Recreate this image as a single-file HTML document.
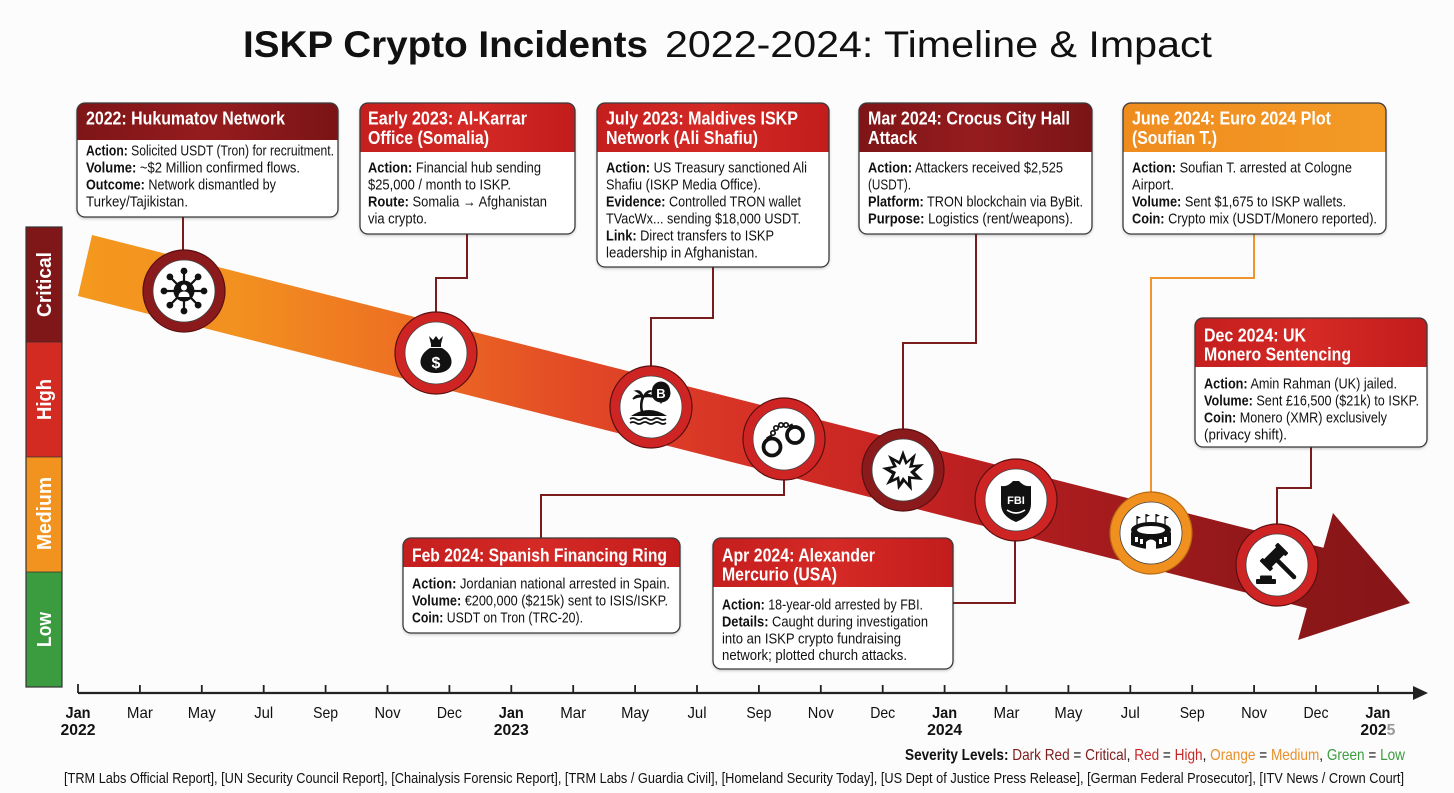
<!DOCTYPE html>
<html><head><meta charset="utf-8"><style>
html,body{margin:0;padding:0;background:#fcfcfc;}
svg{display:block;}
.b{font-family:"Liberation Sans",sans-serif;font-size:15px;fill:#111;}
.h{font-family:"Liberation Sans",sans-serif;font-size:18px;font-weight:bold;fill:#fff;}
.m{font-family:"Liberation Sans",sans-serif;font-size:16px;fill:#111;text-anchor:middle;}
.mb{font-family:"Liberation Sans",sans-serif;font-size:16px;font-weight:bold;fill:#111;text-anchor:middle;}
.sv{font-family:"Liberation Sans",sans-serif;font-size:20px;font-weight:bold;fill:#fff;text-anchor:middle;}
</style></head><body>
<svg width="1454" height="793" viewBox="0 0 1454 793" xmlns="http://www.w3.org/2000/svg">
<defs>
<linearGradient id="band" gradientUnits="userSpaceOnUse" x1="78" y1="0" x2="1410" y2="0">
<stop offset="0" stop-color="#f4981e"/><stop offset="0.12" stop-color="#f29020"/>
<stop offset="0.25" stop-color="#ed6e22"/><stop offset="0.38" stop-color="#e24826"/>
<stop offset="0.5" stop-color="#d63226"/><stop offset="0.62" stop-color="#c62222"/>
<stop offset="0.75" stop-color="#a81c1e"/><stop offset="0.9" stop-color="#8e1719"/>
<stop offset="1" stop-color="#861618"/></linearGradient>
<linearGradient id="dr" x1="0" y1="0" x2="1" y2="0"><stop offset="0" stop-color="#7e1517"/><stop offset="0.5" stop-color="#951c1e"/><stop offset="1" stop-color="#7a1416"/></linearGradient>
<linearGradient id="rd" x1="0" y1="0" x2="1" y2="0"><stop offset="0" stop-color="#c41e1e"/><stop offset="0.5" stop-color="#d52a26"/><stop offset="1" stop-color="#c21c1c"/></linearGradient>
<linearGradient id="or" x1="0" y1="0" x2="1" y2="0"><stop offset="0" stop-color="#ef8c1e"/><stop offset="1" stop-color="#f39a26"/></linearGradient>
<filter id="sh" x="-5%" y="-5%" width="110%" height="115%"><feDropShadow dx="0" dy="1.5" stdDeviation="1.5" flood-color="#000" flood-opacity="0.25"/></filter>
</defs>

<!-- Title -->
<text x="243" y="57" font-family="Liberation Sans, sans-serif" font-size="37" font-weight="bold" fill="#111" textLength="405" lengthAdjust="spacingAndGlyphs">ISKP Crypto Incidents</text>
<text x="665" y="57" font-family="Liberation Sans, sans-serif" font-size="37" fill="#111" textLength="547" lengthAdjust="spacingAndGlyphs">2022-2024: Timeline &amp; Impact</text>

<!-- Severity bar -->
<rect x="26" y="227" width="36" height="115" fill="#7f1618"/>
<rect x="26" y="342" width="36" height="115" fill="#d32a22"/>
<rect x="26" y="457" width="36" height="115" fill="#f2931f"/>
<rect x="26" y="572" width="36" height="115" fill="#3a9c3e"/>
<rect x="26" y="227" width="36" height="460" fill="none" stroke="#333" stroke-width="1.2"/>
<line x1="26" y1="342" x2="62" y2="342" stroke="#333" stroke-width="0.8"/>
<line x1="26" y1="457" x2="62" y2="457" stroke="#333" stroke-width="0.8"/>
<line x1="26" y1="572" x2="62" y2="572" stroke="#333" stroke-width="0.8"/>
<text class="sv" transform="translate(51,284.5) rotate(-90)" textLength="65" lengthAdjust="spacingAndGlyphs">Critical</text>
<text class="sv" transform="translate(51,399.5) rotate(-90)" textLength="41" lengthAdjust="spacingAndGlyphs">High</text>
<text class="sv" transform="translate(51,513.5) rotate(-90)" textLength="73" lengthAdjust="spacingAndGlyphs">Medium</text>
<text class="sv" transform="translate(51,629.5) rotate(-90)" textLength="35" lengthAdjust="spacingAndGlyphs">Low</text>

<!-- Band arrow -->
<polygon points="92,235 1323.4,547.8 1333,513 1410,603 1298,640 1306.8,608.1 78,296" fill="url(#band)"/>

<!-- Connectors -->
<g fill="none" stroke="#7a1c1c" stroke-width="2">
<polyline points="183,217 183,250"/>
<polyline points="467,234 467,278 436,278 436,312"/>
<polyline points="713,267 713,318 651,318 651,366"/>
<polyline points="976,234 976,343 903,343 903,429"/>
<polyline points="1311,447 1311,488 1277,488 1277,524"/>
<polyline points="541,538 541,495 784,495 784,480"/>
<polyline points="953,603 1015,603 1015,541"/>
</g>
<polyline points="1254,234 1254,278 1151,278 1151,492" fill="none" stroke="#ee9530" stroke-width="2"/>

<!-- Circles -->
<g stroke="#5a0f10" stroke-width="1.2">
<circle cx="184" cy="291" r="41" fill="#8b1a1c"/>
<circle cx="436" cy="353" r="41" fill="#cf2424"/>
<circle cx="651" cy="407" r="41" fill="#cf2424"/>
<circle cx="784" cy="439" r="41" fill="#cf2424"/>
<circle cx="903" cy="470" r="41" fill="#8b1a1c"/>
<circle cx="1016" cy="500" r="41" fill="#cf2424"/>
<circle cx="1151" cy="533" r="41" fill="#f0901e" stroke="#b86a10"/>
<circle cx="1277" cy="565" r="41" fill="#cf2424"/>
</g>
<g fill="#fff" stroke="#444" stroke-width="0.8">
<circle cx="184" cy="291" r="31"/><circle cx="436" cy="353" r="31"/>
<circle cx="651" cy="407" r="31"/><circle cx="784" cy="439" r="31"/>
<circle cx="903" cy="470" r="31"/><circle cx="1016" cy="500" r="31"/>
<circle cx="1151" cy="533" r="31"/><circle cx="1277" cy="565" r="31"/>
</g>

<!-- Icon 1: network -->
<g transform="translate(184,291)" fill="#111" stroke="#111">
<g stroke-width="2.2">
<line x1="0" y1="-9" x2="0" y2="-19"/><line x1="0" y1="9" x2="0" y2="19"/>
<line x1="-9" y1="0" x2="-19" y2="0"/><line x1="9" y1="0" x2="19" y2="0"/>
<line x1="6.4" y1="6.4" x2="13.4" y2="13.4"/><line x1="-6.4" y1="6.4" x2="-13.4" y2="13.4"/>
<line x1="6.4" y1="-6.4" x2="13.4" y2="-13.4"/><line x1="-6.4" y1="-6.4" x2="-13.4" y2="-13.4"/>
</g>
<g stroke="none">
<circle cx="0" cy="-20" r="3.4"/><circle cx="0" cy="20" r="3.4"/><circle cx="-20" cy="0" r="3.4"/><circle cx="20" cy="0" r="3.4"/>
<circle cx="14.1" cy="14.1" r="3.4"/><circle cx="-14.1" cy="14.1" r="3.4"/><circle cx="14.1" cy="-14.1" r="3.4"/><circle cx="-14.1" cy="-14.1" r="3.4"/>
<circle cx="0" cy="0" r="10.5"/>
<circle cx="0" cy="-3.5" r="3" fill="#fff"/>
<path d="M-5.5,6 Q-5.5,0.5 0,0.5 Q5.5,0.5 5.5,6 Z" fill="#fff"/>
</g>
</g>

<!-- Icon 2: money bag -->
<g transform="translate(436,353)" fill="#111">
<path d="M-7,-17 L-3,-13 L0,-17 L3,-13 L7,-17 L5,-9 L-5,-9 Z"/>
<path d="M-5,-9 L5,-9 L5,-6 L-5,-6 Z"/>
<path d="M-6,-5 C-20,3 -19,20 0,20 C19,20 20,3 6,-5 Z"/>
<text x="0" y="15" font-family="Liberation Sans, sans-serif" font-size="16" font-weight="bold" fill="#fff" text-anchor="middle">$</text>
</g>

<!-- Icon 3: island -->
<g transform="translate(651,407)" fill="#111">
<path d="M-20,9 Q-2,-3 16,9 Z"/>
<path d="M-21,12 q3,-2 6,0 t6,0 t6,0 t6,0 t6,0 t6,0" fill="none" stroke="#111" stroke-width="1.8"/>
<path d="M-21,16 q3,-2 6,0 t6,0 t6,0 t6,0 t6,0 t6,0" fill="none" stroke="#111" stroke-width="1.8"/>
<path d="M-9,5 Q-11,-3 -8,-10" fill="none" stroke="#111" stroke-width="2.6"/>
<path d="M-8,-10 Q-14,-14 -18,-8 Q-13,-11 -8,-10 Z M-8,-10 Q-3,-15 2,-10 Q-3,-11 -8,-10 Z M-8,-10 Q-10,-17 -15,-16 Q-11,-14 -8,-10 Z M-8,-10 Q-4,-17 0,-16 Q-5,-14 -8,-10 Z" stroke="#111" stroke-width="1.5"/>
<path d="M10,-3 L7,-8 A9,9 0 1 1 13,-8 Z"/>
<circle cx="10" cy="-14" r="9.5"/>
<text x="10" y="-9" font-family="Liberation Sans, sans-serif" font-size="13" font-weight="bold" fill="#fff" text-anchor="middle">B</text>
</g>

<!-- Icon 4: handcuffs -->
<g transform="translate(784,439)" fill="none" stroke="#111">
<circle cx="-12" cy="8" r="8.5" stroke-width="3.8"/>
<circle cx="11" cy="-4" r="8" stroke-width="3.8"/>
<path d="M-17,0 L-12,-3" stroke-width="3.5"/>
<path d="M5,-12 L9,-14" stroke-width="3.5"/>
<circle cx="-11" cy="-6" r="2.2" stroke-width="1.7"/>
<circle cx="-8" cy="-11" r="2.2" stroke-width="1.7"/>
<circle cx="-3" cy="-14" r="2.2" stroke-width="1.7"/>
<circle cx="2" cy="-14" r="2.2" stroke-width="1.7"/>
</g>

<!-- Icon 5: explosion -->
<g transform="translate(903,470)">
<polygon points="0,-20 4,-9 13,-17 10,-5 21,-6 12,2 20,10 8,9 9,21 1,12 -5,20 -6,10 -17,15 -11,4 -21,-2 -10,-4 -15,-15 -4,-9" fill="#111"/>
<polygon points="0,-12 2.5,-5 8,-10 6,-2 13,-3 7,2 12,7 5,6 5,13 0,7 -3,12 -4,6 -10,9 -7,2 -13,-1 -6,-3 -9,-9 -3,-5" fill="#fff"/>
</g>

<!-- Icon 6: FBI shield -->
<g transform="translate(1016,500)">
<path d="M-15,-14 Q-8,-13 -3,-19 L3,-19 Q8,-13 15,-14 L15,4 Q15,16 0,22 Q-15,16 -15,4 Z" fill="#111"/>
<text x="0" y="4" font-family="Liberation Sans, sans-serif" font-size="11" font-weight="bold" fill="#fff" text-anchor="middle">FBI</text>
<path d="M-9,10 Q0,16 9,10" fill="none" stroke="#fff" stroke-width="1.6"/>
</g>

<!-- Icon 7: stadium -->
<g transform="translate(1151,533)" fill="#111">
<g stroke="#111" stroke-width="1.2"><line x1="-14" y1="-8" x2="-14" y2="-17"/><line x1="-5" y1="-10" x2="-5" y2="-19"/><line x1="5" y1="-10" x2="5" y2="-19"/><line x1="14" y1="-8" x2="14" y2="-17"/></g>
<polygon points="-14,-17 -10,-15.5 -14,-14"/><polygon points="-5,-19 -1,-17.5 -5,-16"/><polygon points="5,-19 9,-17.5 5,-16"/><polygon points="14,-17 18,-15.5 14,-14"/>
<ellipse cx="0" cy="-3" rx="20" ry="8"/>
<ellipse cx="0" cy="-3" rx="14" ry="4" fill="#fff"/>
<path d="M-20,-1 L-20,12 Q0,20 20,12 L20,-1 Q0,9 -20,-1 Z"/>
<path d="M-5,16 L-5,9 Q0,4 5,9 L5,16 Z" fill="#fff"/>
<g fill="#fff"><rect x="-16" y="4" width="3" height="5"/><rect x="-11" y="6" width="3" height="5"/><rect x="8" y="6" width="3" height="5"/><rect x="13" y="4" width="3" height="5"/></g>
</g>

<!-- Icon 8: gavel -->
<g transform="translate(1277,565)" fill="#111">
<line x1="-3" y1="-8" x2="17" y2="12" stroke="#111" stroke-width="4.5" stroke-linecap="round"/>
<g transform="translate(-3,-8) rotate(-45)">
<rect x="-10" y="-5.5" width="20" height="11" rx="1"/>
<rect x="-13" y="-7.5" width="4.5" height="15" rx="1"/>
<rect x="8.5" y="-7.5" width="4.5" height="15" rx="1"/>
</g>
<rect x="-21" y="14" width="20" height="5" rx="1"/>
<rect x="-17" y="10.5" width="12" height="4" rx="1"/>
</g>

<!-- Boxes -->
<g filter="url(#sh)">
<rect x="77" y="103" width="261" height="114" rx="8" fill="#fff"/>
<rect x="360" y="103" width="215" height="131" rx="8" fill="#fff"/>
<rect x="597" y="103" width="232" height="164" rx="8" fill="#fff"/>
<rect x="859" y="103" width="233" height="131" rx="8" fill="#fff"/>
<rect x="1123" y="103" width="263" height="131" rx="8" fill="#fff"/>
<rect x="1195" y="318" width="232" height="129" rx="8" fill="#fff"/>
<rect x="403" y="538" width="277" height="95" rx="8" fill="#fff"/>
<rect x="713" y="538" width="240" height="131" rx="8" fill="#fff"/>
</g>
<path d="M77,140 L77,111 Q77,103 85,103 L330,103 Q338,103 338,111 L338,140 Z" fill="url(#dr)"/>
<path d="M360,152 L360,111 Q360,103 368,103 L567,103 Q575,103 575,111 L575,152 Z" fill="url(#rd)"/>
<path d="M597,152 L597,111 Q597,103 605,103 L821,103 Q829,103 829,111 L829,152 Z" fill="url(#rd)"/>
<path d="M859,152 L859,111 Q859,103 867,103 L1084,103 Q1092,103 1092,111 L1092,152 Z" fill="url(#dr)"/>
<path d="M1123,152 L1123,111 Q1123,103 1131,103 L1378,103 Q1386,103 1386,111 L1386,152 Z" fill="url(#or)"/>
<path d="M1195,367 L1195,326 Q1195,318 1203,318 L1419,318 Q1427,318 1427,326 L1427,367 Z" fill="url(#rd)"/>
<path d="M403,567 L403,546 Q403,538 411,538 L672,538 Q680,538 680,546 L680,567 Z" fill="url(#rd)"/>
<path d="M713,587 L713,546 Q713,538 721,538 L945,538 Q953,538 953,546 L953,587 Z" fill="url(#rd)"/>
<g fill="none" stroke="#3a3a3a" stroke-width="1.3">
<rect x="77" y="103" width="261" height="114" rx="8"/>
<rect x="360" y="103" width="215" height="131" rx="8"/>
<rect x="597" y="103" width="232" height="164" rx="8"/>
<rect x="859" y="103" width="233" height="131" rx="8"/>
<rect x="1123" y="103" width="263" height="131" rx="8"/>
<rect x="1195" y="318" width="232" height="129" rx="8"/>
<rect x="403" y="538" width="277" height="95" rx="8"/>
<rect x="713" y="538" width="240" height="131" rx="8"/>
</g>

<!-- Box 1 -->
<text class="h" x="86" y="124.5" textLength="199" lengthAdjust="spacingAndGlyphs">2022: Hukumatov Network</text>
<text class="b" x="86" y="155.5" textLength="248" lengthAdjust="spacingAndGlyphs"><tspan font-weight="bold">Action:</tspan> Solicited USDT (Tron) for recruitment.</text>
<text class="b" x="86" y="172.5" textLength="214" lengthAdjust="spacingAndGlyphs"><tspan font-weight="bold">Volume:</tspan> ~$2 Million confirmed flows.</text>
<text class="b" x="86" y="189.5" textLength="190" lengthAdjust="spacingAndGlyphs"><tspan font-weight="bold">Outcome:</tspan> Network dismantled by</text>
<text class="b" x="86" y="206.5" textLength="102" lengthAdjust="spacingAndGlyphs">Turkey/Tajikistan.</text>

<!-- Box 2 -->
<text class="h" x="368" y="124.5" textLength="159" lengthAdjust="spacingAndGlyphs">Early 2023: Al-Karrar</text>
<text class="h" x="368" y="144" textLength="121" lengthAdjust="spacingAndGlyphs">Office (Somalia)</text>
<text class="b" x="368" y="172.5" textLength="173" lengthAdjust="spacingAndGlyphs"><tspan font-weight="bold">Action:</tspan> Financial hub sending</text>
<text class="b" x="368" y="189.5" textLength="143" lengthAdjust="spacingAndGlyphs">$25,000 / month to ISKP.</text>
<text class="b" x="368" y="206.5" textLength="179" lengthAdjust="spacingAndGlyphs"><tspan font-weight="bold">Route:</tspan> Somalia → Afghanistan</text>
<text class="b" x="368" y="223.5" textLength="59" lengthAdjust="spacingAndGlyphs">via crypto.</text>

<!-- Box 3 -->
<text class="h" x="606" y="124.5" textLength="192" lengthAdjust="spacingAndGlyphs">July 2023: Maldives ISKP</text>
<text class="h" x="606" y="144" textLength="152" lengthAdjust="spacingAndGlyphs">Network (Ali Shafiu)</text>
<text class="b" x="606" y="172.5" textLength="201" lengthAdjust="spacingAndGlyphs"><tspan font-weight="bold">Action:</tspan> US Treasury sanctioned Ali</text>
<text class="b" x="606" y="189.5" textLength="155" lengthAdjust="spacingAndGlyphs">Shafiu (ISKP Media Office).</text>
<text class="b" x="606" y="206.5" textLength="195" lengthAdjust="spacingAndGlyphs"><tspan font-weight="bold">Evidence:</tspan> Controlled TRON wallet</text>
<text class="b" x="606" y="223.5" textLength="195" lengthAdjust="spacingAndGlyphs">TVacWx... sending $18,000 USDT.</text>
<text class="b" x="606" y="240.5" textLength="168" lengthAdjust="spacingAndGlyphs"><tspan font-weight="bold">Link:</tspan> Direct transfers to ISKP</text>
<text class="b" x="606" y="257.5" textLength="152" lengthAdjust="spacingAndGlyphs">leadership in Afghanistan.</text>

<!-- Box 4 -->
<text class="h" x="868" y="124.5" textLength="202" lengthAdjust="spacingAndGlyphs">Mar 2024: Crocus City Hall</text>
<text class="h" x="868" y="144" textLength="49" lengthAdjust="spacingAndGlyphs">Attack</text>
<text class="b" x="868" y="172.5" textLength="195" lengthAdjust="spacingAndGlyphs"><tspan font-weight="bold">Action:</tspan> Attackers received $2,525</text>
<text class="b" x="868" y="189.5" textLength="43" lengthAdjust="spacingAndGlyphs">(USDT).</text>
<text class="b" x="868" y="206.5" textLength="215" lengthAdjust="spacingAndGlyphs"><tspan font-weight="bold">Platform:</tspan> TRON blockchain via ByBit.</text>
<text class="b" x="868" y="223.5" textLength="205" lengthAdjust="spacingAndGlyphs"><tspan font-weight="bold">Purpose:</tspan> Logistics (rent/weapons).</text>

<!-- Box 5 -->
<text class="h" x="1132" y="124.5" textLength="199" lengthAdjust="spacingAndGlyphs">June 2024: Euro 2024 Plot</text>
<text class="h" x="1132" y="144" textLength="85" lengthAdjust="spacingAndGlyphs">(Soufian T.)</text>
<text class="b" x="1132" y="172.5" textLength="220" lengthAdjust="spacingAndGlyphs"><tspan font-weight="bold">Action:</tspan> Soufian T. arrested at Cologne</text>
<text class="b" x="1132" y="189.5" textLength="42" lengthAdjust="spacingAndGlyphs">Airport.</text>
<text class="b" x="1132" y="206.5" textLength="214" lengthAdjust="spacingAndGlyphs"><tspan font-weight="bold">Volume:</tspan> Sent $1,675 to ISKP wallets.</text>
<text class="b" x="1132" y="223.5" textLength="245" lengthAdjust="spacingAndGlyphs"><tspan font-weight="bold">Coin:</tspan> Crypto mix (USDT/Monero reported).</text>

<!-- Box 6 -->
<text class="h" x="1204" y="341.5" textLength="102" lengthAdjust="spacingAndGlyphs">Dec 2024: UK</text>
<text class="h" x="1204" y="360.5" textLength="147" lengthAdjust="spacingAndGlyphs">Monero Sentencing</text>
<text class="b" x="1204" y="388.5" textLength="193" lengthAdjust="spacingAndGlyphs"><tspan font-weight="bold">Action:</tspan> Amin Rahman (UK) jailed.</text>
<text class="b" x="1204" y="405.5" textLength="215" lengthAdjust="spacingAndGlyphs"><tspan font-weight="bold">Volume:</tspan> Sent £16,500 ($21k) to ISKP.</text>
<text class="b" x="1204" y="422.5" textLength="183" lengthAdjust="spacingAndGlyphs"><tspan font-weight="bold">Coin:</tspan> Monero (XMR) exclusively</text>
<text class="b" x="1204" y="439.5" textLength="83" lengthAdjust="spacingAndGlyphs">(privacy shift).</text>

<!-- Feb box -->
<text class="h" x="412" y="561.5" textLength="255" lengthAdjust="spacingAndGlyphs">Feb 2024: Spanish Financing Ring</text>
<text class="b" x="412" y="588.5" textLength="258" lengthAdjust="spacingAndGlyphs"><tspan font-weight="bold">Action:</tspan> Jordanian national arrested in Spain.</text>
<text class="b" x="412" y="605.5" textLength="256" lengthAdjust="spacingAndGlyphs"><tspan font-weight="bold">Volume:</tspan> €200,000 ($215k) sent to ISIS/ISKP.</text>
<text class="b" x="412" y="622.5" textLength="171" lengthAdjust="spacingAndGlyphs"><tspan font-weight="bold">Coin:</tspan> USDT on Tron (TRC-20).</text>

<!-- Apr box -->
<text class="h" x="722" y="561.5" textLength="153" lengthAdjust="spacingAndGlyphs">Apr 2024: Alexander</text>
<text class="h" x="722" y="580.5" textLength="115" lengthAdjust="spacingAndGlyphs">Mercurio (USA)</text>
<text class="b" x="722" y="609.5" textLength="201" lengthAdjust="spacingAndGlyphs"><tspan font-weight="bold">Action:</tspan> 18-year-old arrested by FBI.</text>
<text class="b" x="722" y="626.5" textLength="206" lengthAdjust="spacingAndGlyphs"><tspan font-weight="bold">Details:</tspan> Caught during investigation</text>
<text class="b" x="722" y="643.5" textLength="179" lengthAdjust="spacingAndGlyphs">into an ISKP crypto fundraising</text>
<text class="b" x="722" y="660" textLength="185" lengthAdjust="spacingAndGlyphs">network; plotted church attacks.</text>

<!-- Axis -->
<line x1="78" y1="693" x2="1418" y2="693" stroke="#222" stroke-width="2.2"/>
<polygon points="1413,686 1428,693 1413,700" fill="#222"/>
<g stroke="#222" stroke-width="1.8">
<line x1="78" y1="684" x2="78" y2="693"/><line x1="139.9" y1="685" x2="139.9" y2="693"/>
<line x1="201.8" y1="685" x2="201.8" y2="693"/><line x1="263.7" y1="685" x2="263.7" y2="693"/>
<line x1="325.6" y1="685" x2="325.6" y2="693"/><line x1="387.5" y1="685" x2="387.5" y2="693"/>
<line x1="449.4" y1="685" x2="449.4" y2="693"/><line x1="511.3" y1="685" x2="511.3" y2="693"/>
<line x1="573.2" y1="685" x2="573.2" y2="693"/><line x1="635.1" y1="685" x2="635.1" y2="693"/>
<line x1="697" y1="685" x2="697" y2="693"/><line x1="758.9" y1="685" x2="758.9" y2="693"/>
<line x1="820.8" y1="685" x2="820.8" y2="693"/><line x1="882.7" y1="685" x2="882.7" y2="693"/>
<line x1="944.6" y1="685" x2="944.6" y2="693"/><line x1="1006.5" y1="685" x2="1006.5" y2="693"/>
<line x1="1068.4" y1="685" x2="1068.4" y2="693"/><line x1="1130.3" y1="685" x2="1130.3" y2="693"/>
<line x1="1192.2" y1="685" x2="1192.2" y2="693"/><line x1="1254.1" y1="685" x2="1254.1" y2="693"/>
<line x1="1316" y1="685" x2="1316" y2="693"/><line x1="1377.9" y1="685" x2="1377.9" y2="693"/>
</g>
<text class="mb" x="78" y="718" textLength="25" lengthAdjust="spacingAndGlyphs">Jan</text>
<text class="mb" x="78" y="735" textLength="35" lengthAdjust="spacingAndGlyphs">2022</text>
<text class="m" x="139.9" y="718" textLength="26" lengthAdjust="spacingAndGlyphs">Mar</text>
<text class="m" x="201.8" y="718" textLength="28" lengthAdjust="spacingAndGlyphs">May</text>
<text class="m" x="263.7" y="718" textLength="19" lengthAdjust="spacingAndGlyphs">Jul</text>
<text class="m" x="325.6" y="718" textLength="25" lengthAdjust="spacingAndGlyphs">Sep</text>
<text class="m" x="387.5" y="718" textLength="26" lengthAdjust="spacingAndGlyphs">Nov</text>
<text class="m" x="449.4" y="718" textLength="25" lengthAdjust="spacingAndGlyphs">Dec</text>
<text class="mb" x="511.3" y="718" textLength="25" lengthAdjust="spacingAndGlyphs">Jan</text>
<text class="mb" x="511.3" y="735" textLength="35" lengthAdjust="spacingAndGlyphs">2023</text>
<text class="m" x="573.2" y="718" textLength="26" lengthAdjust="spacingAndGlyphs">Mar</text>
<text class="m" x="635.1" y="718" textLength="28" lengthAdjust="spacingAndGlyphs">May</text>
<text class="m" x="697" y="718" textLength="19" lengthAdjust="spacingAndGlyphs">Jul</text>
<text class="m" x="758.9" y="718" textLength="25" lengthAdjust="spacingAndGlyphs">Sep</text>
<text class="m" x="820.8" y="718" textLength="26" lengthAdjust="spacingAndGlyphs">Nov</text>
<text class="m" x="882.7" y="718" textLength="25" lengthAdjust="spacingAndGlyphs">Dec</text>
<text class="mb" x="944.6" y="718" textLength="25" lengthAdjust="spacingAndGlyphs">Jan</text>
<text class="mb" x="944.6" y="735" textLength="35" lengthAdjust="spacingAndGlyphs">2024</text>
<text class="m" x="1006.5" y="718" textLength="26" lengthAdjust="spacingAndGlyphs">Mar</text>
<text class="m" x="1068.4" y="718" textLength="28" lengthAdjust="spacingAndGlyphs">May</text>
<text class="m" x="1130.3" y="718" textLength="19" lengthAdjust="spacingAndGlyphs">Jul</text>
<text class="m" x="1192.2" y="718" textLength="25" lengthAdjust="spacingAndGlyphs">Sep</text>
<text class="m" x="1254.1" y="718" textLength="26" lengthAdjust="spacingAndGlyphs">Nov</text>
<text class="m" x="1316" y="718" textLength="25" lengthAdjust="spacingAndGlyphs">Dec</text>
<text class="mb" x="1377.9" y="718" textLength="25" lengthAdjust="spacingAndGlyphs">Jan</text>
<text class="mb" x="1377.9" y="735" textLength="35" lengthAdjust="spacingAndGlyphs">202<tspan fill="#999">5</tspan></text>

<!-- Legend -->
<text x="905" y="760" font-family="Liberation Sans, sans-serif" font-size="16" fill="#111" textLength="500" lengthAdjust="spacingAndGlyphs"><tspan font-weight="bold">Severity Levels:</tspan> <tspan fill="#7b1c1c">Dark Red</tspan> = <tspan fill="#7b1c1c">Critical</tspan>, <tspan fill="#c62828">Red</tspan> = <tspan fill="#c62828">High</tspan>, <tspan fill="#e8902a">Orange</tspan> = <tspan fill="#e8902a">Medium</tspan>, <tspan fill="#3a9c3e">Green</tspan> = <tspan fill="#3a9c3e">Low</tspan></text>

<!-- Sources -->
<text x="64" y="783" font-family="Liberation Sans, sans-serif" font-size="15" fill="#111" textLength="1340" lengthAdjust="spacingAndGlyphs">[TRM Labs Official Report], [UN Security Council Report], [Chainalysis Forensic Report], [TRM Labs / Guardia Civil], [Homeland Security Today], [US Dept of Justice Press Release], [German Federal Prosecutor], [ITV News / Crown Court]</text>
</svg>
</body></html>
